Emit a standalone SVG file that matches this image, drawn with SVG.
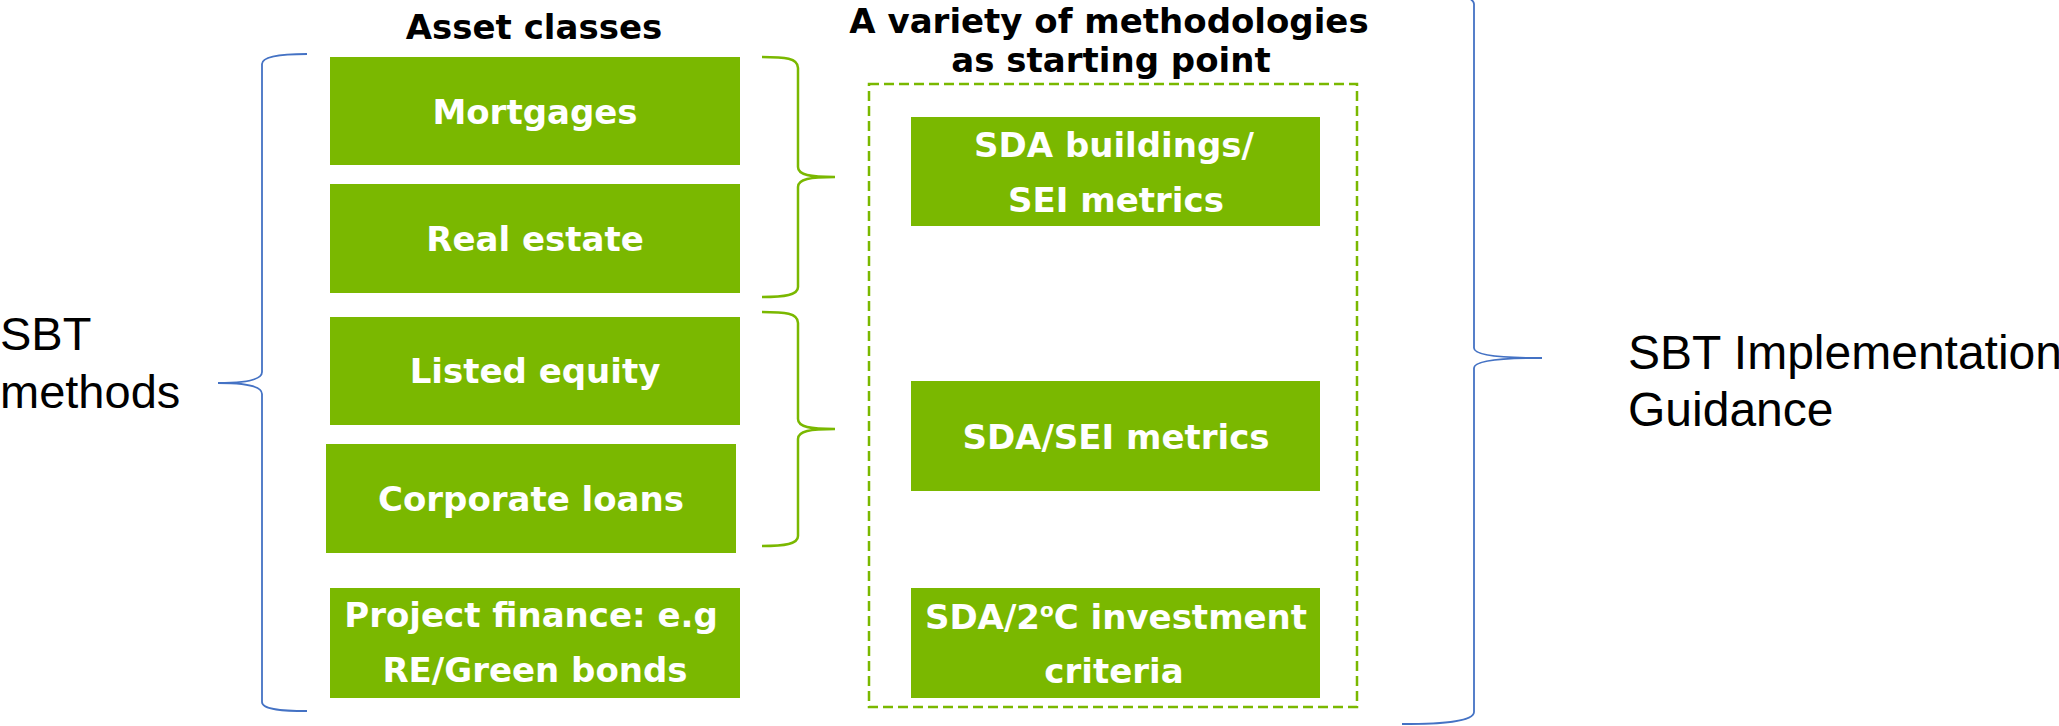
<svg xmlns="http://www.w3.org/2000/svg" width="2059" height="726" viewBox="0 0 2059 726">
<style>
.box{fill:#7AB800;}
.bt{font-family:"DejaVu Sans",Verdana,sans-serif;font-weight:bold;font-size:34px;fill:#ffffff;text-anchor:middle;}
.hd{font-family:"DejaVu Sans",Verdana,sans-serif;font-weight:bold;font-size:34px;fill:#000000;text-anchor:middle;}
.lb{font-family:"Liberation Sans",Arial,sans-serif;font-size:47px;fill:#000000;}
.gbrace{fill:none;stroke:#7AB800;stroke-width:2.5;}
.bbrace{fill:none;stroke:#4472C4;stroke-width:1.8;}
.dash{fill:none;stroke:#7AB800;stroke-width:2.5;stroke-dasharray:10 5;}
</style>
<rect width="2059" height="726" fill="#ffffff"/>
<g id="labels">
<text class="lb" x="0" y="350">SBT</text>
<text class="lb" x="0" y="408">methods</text>
<text class="lb" x="1628" y="369" style="font-size:48px">SBT Implementation</text>
<text class="lb" x="1628" y="426" style="font-size:48px">Guidance</text>
<text class="hd" x="534" y="39">Asset classes</text>
<text class="hd" x="1109" y="33">A variety of methodologies</text>
<text class="hd" x="1111" y="72">as starting point</text>
</g>
<g id="methodologies-frame">
<rect class="dash" x="869" y="84" width="488" height="623"/>
</g>
<g id="mortgages"><rect class="box" x="330" y="57" width="410" height="108"/><text class="bt" x="535" y="124">Mortgages</text></g>
<g id="real-estate"><rect class="box" x="330" y="184" width="410" height="109"/><text class="bt" x="535" y="251">Real estate</text></g>
<g id="listed-equity"><rect class="box" x="330" y="317" width="410" height="108"/><text class="bt" x="535" y="383">Listed equity</text></g>
<g id="corporate-loans"><rect class="box" x="326" y="444" width="410" height="109"/><text class="bt" x="531" y="511">Corporate loans</text></g>
<g id="project-finance"><rect class="box" x="330" y="588" width="410" height="110"/><text class="bt" x="531" y="627">Project finance: e.g</text><text class="bt" x="535" y="682">RE/Green bonds</text></g>
<g id="sda-buildings"><rect class="box" x="911" y="117" width="409" height="109"/><text class="bt" x="1114" y="157">SDA buildings/</text><text class="bt" x="1116" y="212">SEI metrics</text></g>
<g id="sda-sei"><rect class="box" x="911" y="381" width="409" height="110"/><text class="bt" x="1116" y="449">SDA/SEI metrics</text></g>
<g id="sda-2c"><rect class="box" x="911" y="588" width="409" height="110"/><text class="bt" x="1116" y="629">SDA/2<tspan style="font-size:20px" dy="-12">o</tspan><tspan dy="12">C investment</tspan></text><text class="bt" x="1114" y="683">criteria</text></g>
<g id="connectors">
<path class="bbrace" d="M 307 54 C 285 54, 262 56, 262 64 L 262 372 C 262 380, 245 383, 218 383 C 245 383, 262 386, 262 394 L 262 702 C 262 710, 285 711, 307 711"/>
<path class="gbrace" d="M 762 57 C 785 57, 798 58, 798 68 L 798 167 C 798 175, 810 177, 835 177 C 810 177, 798 179, 798 187 L 798 287 C 798 295, 785 297, 762 297"/>
<path class="gbrace" d="M 762 312 C 785 312, 798 313, 798 323 L 798 419 C 798 427, 810 429, 835 429 C 810 429, 798 431, 798 439 L 798 536 C 798 544, 785 546, 762 546"/>
<path class="bbrace" d="M 1402 -8 C 1440 -8, 1474 -6, 1474 4 L 1474 348 C 1474 355, 1500 358, 1542 358 C 1500 358, 1474 361, 1474 368 L 1474 712 C 1474 722, 1440 724, 1402 724"/>
</g>
</svg>
